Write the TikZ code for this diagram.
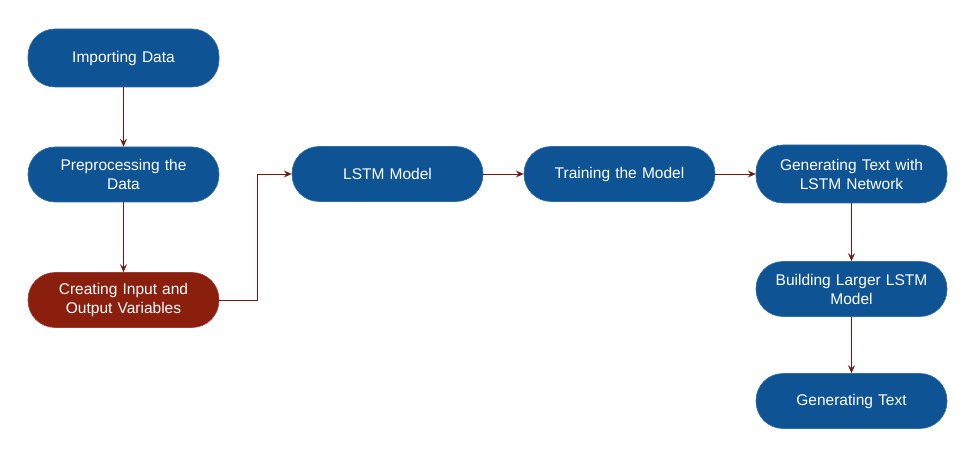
\documentclass[tikz,border=0pt]{standalone}
\usepackage{fontspec}
\setmainfont{Liberation Sans}
\usetikzlibrary{arrows.meta}
\definecolor{boxblue}{HTML}{0E5394}
\definecolor{boxred}{HTML}{8A1F0D}
\definecolor{linkred}{HTML}{6E1C12}
\tikzset{
  proc/.style={draw=boxblue!85!white, line width=0.6pt, fill=boxblue, text=white, rounded corners=27pt,
    minimum width=191pt, minimum height=55pt, text width=180pt, align=center,
    font=\fontsize{15.5}{19}\selectfont, inner sep=0pt},
  hot/.style={proc, fill=boxred, draw=boxred!85!white},
  link/.style={draw=linkred, line width=0.9pt, -{Stealth[length=8pt,width=7pt,inset=3pt]}}
}
\begin{document}
\begin{tikzpicture}[x=1pt,y=-1pt]
\useasboundingbox (0,0) rectangle (967,457);
\node[proc, minimum height=58pt] (imp) at (123.5,58) {Importing Data};
\node[proc] (pre) at (123.5,174.5) {Preprocessing the\\Data};
\node[hot] (cre) at (123.5,300) {Creating Input and\\Output Variables};
\node[proc] (lstm) at (387.5,174) {LSTM Model};
\node[proc] (train) at (619.5,174) {Training the Model};
\node[proc, minimum height=58pt] (gen) at (851.5,174) {Generating Text with\\LSTM Network};
\node[proc] (big) at (851.5,289) {Building Larger LSTM\\Model};
\node[proc] (gtxt) at (851.5,401) {Generating Text};
\draw[link] (imp) -- (pre);
\draw[link] (pre) -- (cre);
\draw[link] (cre.east) -- (257,300) |- (lstm.west);
\draw[link] (lstm) -- (train);
\draw[link] (train) -- (gen);
\draw[link] (gen) -- (big);
\draw[link] (big) -- (gtxt);
\end{tikzpicture}
\end{document}
